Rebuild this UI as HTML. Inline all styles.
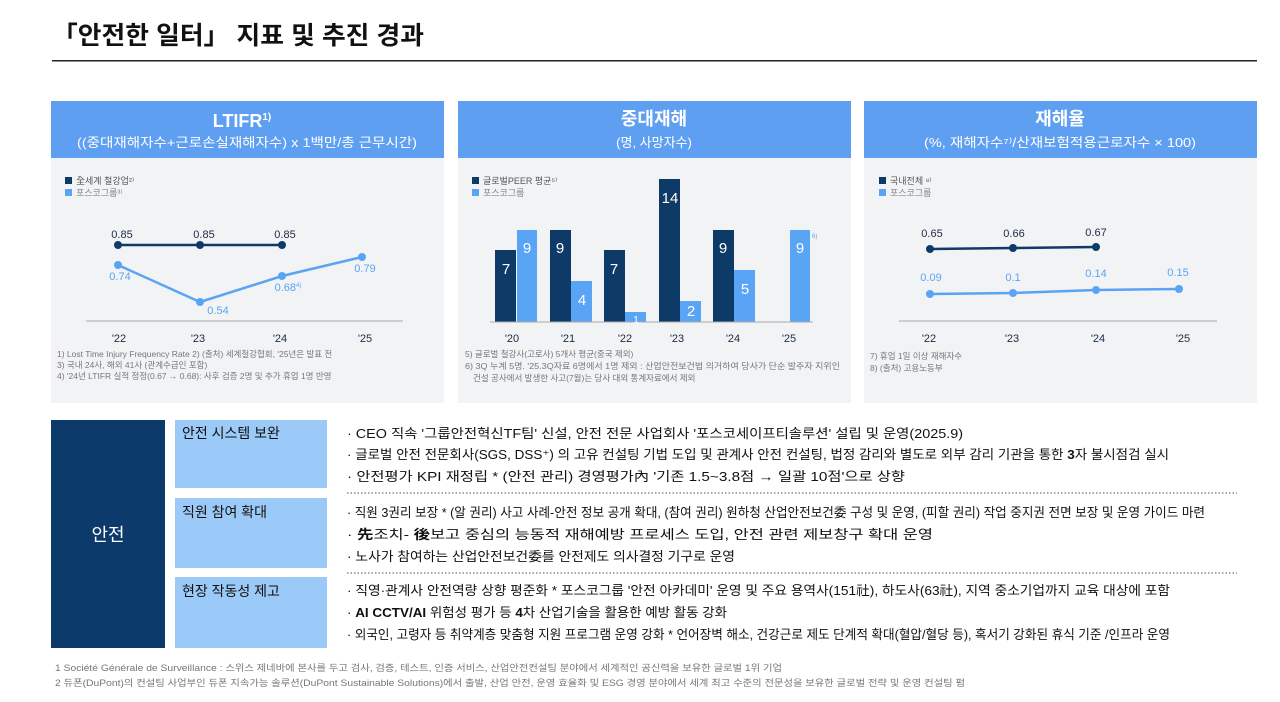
<!DOCTYPE html><html><head><meta charset="utf-8"><style>
body{margin:0;background:#fff}
svg{display:block}
text{font-family:"Liberation Sans","Noto Sans CJK KR",sans-serif}
</style></head><body>
<svg width="1280" height="702" viewBox="0 0 1280 702">
<text x="52" y="44" font-size="25" font-weight="bold" fill="#111" textLength="372" lengthAdjust="spacingAndGlyphs">「안전한 일터」 지표 및 추진 경과</text>
<rect x="52" y="60" width="1205" height="1.5" fill="#222"/>
<!-- headers -->
<g fill="#5e9ff2"><rect x="51" y="101" width="393" height="57"/><rect x="458" y="101" width="393" height="57"/><rect x="864" y="101" width="393" height="57"/></g>
<g fill="#f2f3f5"><rect x="51" y="158" width="393" height="245"/><rect x="458" y="158" width="393" height="245"/><rect x="864" y="158" width="393" height="245"/></g>
<g fill="#fff" text-anchor="middle">
<text x="242" y="127" font-size="18" font-weight="bold">LTIFR<tspan font-size="10" dy="-7">1)</tspan></text>
<text x="247" y="147" font-size="13" textLength="340" lengthAdjust="spacingAndGlyphs">((중대재해자수+근로손실재해자수) x 1백만/총 근무시간)</text>
<text x="654" y="125" font-size="18" font-weight="bold">중대재해</text>
<text x="654" y="147" font-size="13">(명, 사망자수)</text>
<text x="1060" y="125" font-size="18" font-weight="bold">재해율</text>
<text x="1060" y="147" font-size="13" textLength="272" lengthAdjust="spacingAndGlyphs">(%, 재해자수⁷⁾/산재보험적용근로자수 × 100)</text>
</g>
<!-- LTIFR -->
<rect x="65" y="177" width="7" height="7" fill="#0d3a66"/><text x="76" y="184" font-size="9" fill="#555">全세계 철강업²⁾</text>
<rect x="65" y="189" width="7" height="7" fill="#5aa4f5"/><text x="76" y="196" font-size="9" fill="#888">포스코그룹³⁾</text>
<line x1="86" y1="321" x2="403" y2="321" stroke="#aaa"/>
<polyline points="118,245 200,245 282,245" stroke="#0d3a66" stroke-width="2.5" fill="none"/>
<polyline points="118,265 200,302 282,276 362,257" stroke="#5aa4f5" stroke-width="2.5" fill="none"/>
<g fill="#0d3a66"><circle cx="118" cy="245" r="4"/><circle cx="200" cy="245" r="4"/><circle cx="282" cy="245" r="4"/></g>
<g fill="#5aa4f5"><circle cx="118" cy="265" r="4"/><circle cx="200" cy="302" r="4"/><circle cx="282" cy="276" r="4"/><circle cx="362" cy="257" r="4"/></g>
<g font-size="11" fill="#1a2b44" text-anchor="middle"><text x="122" y="238">0.85</text><text x="204" y="238">0.85</text><text x="285" y="238">0.85</text></g>
<g font-size="11" fill="#5aa4f5" text-anchor="middle"><text x="120" y="280">0.74</text><text x="218" y="314">0.54</text><text x="288" y="291">0.68<tspan font-size="6" dy="-4">4)</tspan></text><text x="365" y="272">0.79</text></g>
<g font-size="11" fill="#1a2b44" text-anchor="middle"><text x="119" y="342">'22</text><text x="198" y="342">'23</text><text x="280" y="342">'24</text><text x="365" y="342">'25</text></g>
<g font-size="8.5" fill="#777"><text x="57" y="357">1) Lost Time Injury Frequency Rate     2) (출처) 세계철강협회, '25년은 발표 전</text><text x="57" y="368">3) 국내 24사, 해외 41사 (관계수급인 포함)</text><text x="57" y="379">4) '24년 LTIFR 실적 정정(0.67 → 0.68): 사후 검증 2명 및 추가 휴업 1명 반영</text></g>
<!-- bars -->
<rect x="472" y="177" width="7" height="7" fill="#0d3a66"/><text x="483" y="184" font-size="9" fill="#555">글로벌PEER 평균⁵⁾</text>
<rect x="472" y="189" width="7" height="7" fill="#5aa4f5"/><text x="483" y="196" font-size="9" fill="#888">포스코그룹</text>
<g fill="#0d3a66"><rect x="495" y="250" width="21" height="72"/><rect x="550" y="230" width="21" height="92"/><rect x="604" y="250" width="21" height="72"/><rect x="659" y="179" width="21" height="143"/><rect x="713" y="230" width="21" height="92"/></g>
<g fill="#5aa4f5"><rect x="517" y="230" width="20" height="92"/><rect x="571" y="281" width="21" height="41"/><rect x="625" y="312" width="21" height="10"/><rect x="680" y="301" width="21" height="21"/><rect x="734" y="270" width="21" height="52"/><rect x="790" y="230" width="20" height="92"/></g>
<line x1="490" y1="322" x2="813" y2="322" stroke="#aaa"/>
<g font-size="15" fill="#fff" text-anchor="middle"><text x="506" y="274">7</text><text x="527" y="253">9</text><text x="560" y="253">9</text><text x="582" y="305">4</text><text x="614" y="274">7</text><text x="636" y="323" font-size="10">1</text><text x="670" y="203">14</text><text x="691" y="316">2</text><text x="723" y="253">9</text><text x="745" y="294">5</text><text x="800" y="253">9</text></g>
<text x="812" y="238" font-size="6" fill="#5aa4f5">6)</text>
<g font-size="11" fill="#1a2b44" text-anchor="middle"><text x="512" y="342">'20</text><text x="568" y="342">'21</text><text x="625" y="342">'22</text><text x="677" y="342">'23</text><text x="733" y="342">'24</text><text x="789" y="342">'25</text></g>
<g font-size="8.5" fill="#777"><text x="465" y="357">5) 글로벌 철강사(고로사) 5개사 평균(중국 제외)</text><text x="465" y="369" textLength="375" lengthAdjust="spacingAndGlyphs">6) 3Q 누계 5명. '25.3Q자료 6명에서 1명 제외 : 산업안전보건법 의거하여 당사가 단순 발주자 지위인</text><text x="473" y="381">건설 공사에서 발생한 사고(7월)는 당사 대외 통계자료에서 제외</text></g>
<!-- rate -->
<rect x="879" y="177" width="7" height="7" fill="#0d3a66"/><text x="890" y="184" font-size="9" fill="#555">국내전체 ⁸⁾</text>
<rect x="879" y="189" width="7" height="7" fill="#5aa4f5"/><text x="890" y="196" font-size="9" fill="#888">포스코그룹</text>
<line x1="899" y1="321" x2="1217" y2="321" stroke="#aaa"/>
<polyline points="930,249 1013,248 1096,247" stroke="#0d3a66" stroke-width="2.5" fill="none"/>
<polyline points="930,294 1013,293 1096,290 1179,289" stroke="#5aa4f5" stroke-width="2.5" fill="none"/>
<g fill="#0d3a66"><circle cx="930" cy="249" r="4"/><circle cx="1013" cy="248" r="4"/><circle cx="1096" cy="247" r="4"/></g>
<g fill="#5aa4f5"><circle cx="930" cy="294" r="4"/><circle cx="1013" cy="293" r="4"/><circle cx="1096" cy="290" r="4"/><circle cx="1179" cy="289" r="4"/></g>
<g font-size="11" fill="#1a2b44" text-anchor="middle"><text x="932" y="237">0.65</text><text x="1014" y="237">0.66</text><text x="1096" y="236">0.67</text></g>
<g font-size="11" fill="#5aa4f5" text-anchor="middle"><text x="931" y="281">0.09</text><text x="1013" y="281">0.1</text><text x="1096" y="277">0.14</text><text x="1178" y="276">0.15</text></g>
<g font-size="11" fill="#1a2b44" text-anchor="middle"><text x="929" y="342">'22</text><text x="1012" y="342">'23</text><text x="1098" y="342">'24</text><text x="1183" y="342">'25</text></g>
<g font-size="8.5" fill="#777"><text x="870" y="359">7) 휴업 1일 이상 재해자수</text><text x="870" y="371">8) (출처) 고용노동부</text></g>
<!-- bottom -->
<rect x="51" y="420" width="114" height="228" fill="#0c3a6b"/>
<text x="108" y="541" font-size="18" fill="#fff" text-anchor="middle">안전</text>
<g fill="#9ccaf8"><rect x="175" y="420" width="152" height="68"/><rect x="175" y="498" width="152" height="70"/><rect x="175" y="577" width="152" height="71"/></g>
<g font-size="14" fill="#111"><text x="182" y="438">안전 시스템 보완</text><text x="182" y="517">직원 참여 확대</text><text x="182" y="596">현장 작동성 제고</text></g>
<g stroke="#555" stroke-dasharray="1.5,2" stroke-width="1"><line x1="347" y1="493" x2="1237" y2="493"/><line x1="347" y1="573" x2="1237" y2="573"/></g>
<g font-size="13" fill="#111">
<text x="347" y="438" textLength="616" lengthAdjust="spacingAndGlyphs">· CEO 직속 '그룹안전혁신TF팀' 신설, 안전 전문 사업회사 '포스코세이프티솔루션' 설립 및 운영(2025.9)</text>
<text x="347" y="459" textLength="822" lengthAdjust="spacingAndGlyphs">· 글로벌  안전 전문회사(SGS, DSS⁺) 의 고유 컨설팅 기법 도입 및 관계사 안전 컨설팅, 법정 감리와 별도로 외부 감리 기관을 통한 <tspan font-weight="bold">3</tspan>자 불시점검 실시</text>
<text x="347" y="481" textLength="558" lengthAdjust="spacingAndGlyphs">· 안전평가 KPI 재정립  * (안전 관리) 경영평가內 '기존 1.5~3.8점 → 일괄 10점'으로 상향</text>
<text x="347" y="517" textLength="858" lengthAdjust="spacingAndGlyphs">· 직원 3권리 보장  * (알 권리) 사고 사례-안전 정보 공개 확대, (참여 권리) 원하청 산업안전보건委 구성 및 운영, (피할 권리) 작업 중지권 전면 보장 및 운영 가이드 마련</text>
<text x="347" y="539" textLength="586" lengthAdjust="spacingAndGlyphs">· <tspan font-weight="bold">先</tspan>조치- <tspan font-weight="bold">後</tspan>보고 중심의 능동적 재해예방 프로세스 도입, 안전 관련 제보창구 확대 운영</text>
<text x="347" y="561" textLength="388" lengthAdjust="spacingAndGlyphs">· 노사가 참여하는 산업안전보건委를 안전제도 의사결정 기구로 운영</text>
<text x="347" y="595" textLength="823" lengthAdjust="spacingAndGlyphs">· 직영·관계사 안전역량 상향 평준화  * 포스코그룹 '안전 아카데미' 운영 및 주요 용역사(151社), 하도사(63社), 지역 중소기업까지 교육 대상에 포함</text>
<text x="347" y="617" textLength="380" lengthAdjust="spacingAndGlyphs">· <tspan font-weight="bold">AI CCTV/AI</tspan> 위험성 평가 등 <tspan font-weight="bold">4</tspan>차 산업기술을 활용한 예방 활동 강화</text>
<text x="347" y="639" textLength="823" lengthAdjust="spacingAndGlyphs">· 외국인, 고령자 등 취약계층 맞춤형 지원 프로그램 운영 강화  * 언어장벽 해소, 건강근로 제도 단계적 확대(혈압/혈당 등), 혹서기 강화된 휴식 기준 /인프라 운영</text>
</g>
<g font-size="9" fill="#777"><text x="55" y="671" textLength="727" lengthAdjust="spacingAndGlyphs">1 Société Générale de Surveillance : 스위스 제네바에 본사를 두고 검사, 검증, 테스트, 인증 서비스, 산업안전컨설팅 분야에서 세계적인 공신력을 보유한 글로벌 1위 기업</text>
<text x="55" y="686" textLength="910" lengthAdjust="spacingAndGlyphs">2 듀폰(DuPont)의 컨설팅 사업부인 듀폰 지속가능 솔루션(DuPont Sustainable Solutions)에서 출발, 산업 안전, 운영 효율화 및 ESG 경영 분야에서 세계 최고 수준의 전문성을 보유한 글로벌 전략 및 운영 컨설팅 펌</text></g>
</svg>
</body></html>
